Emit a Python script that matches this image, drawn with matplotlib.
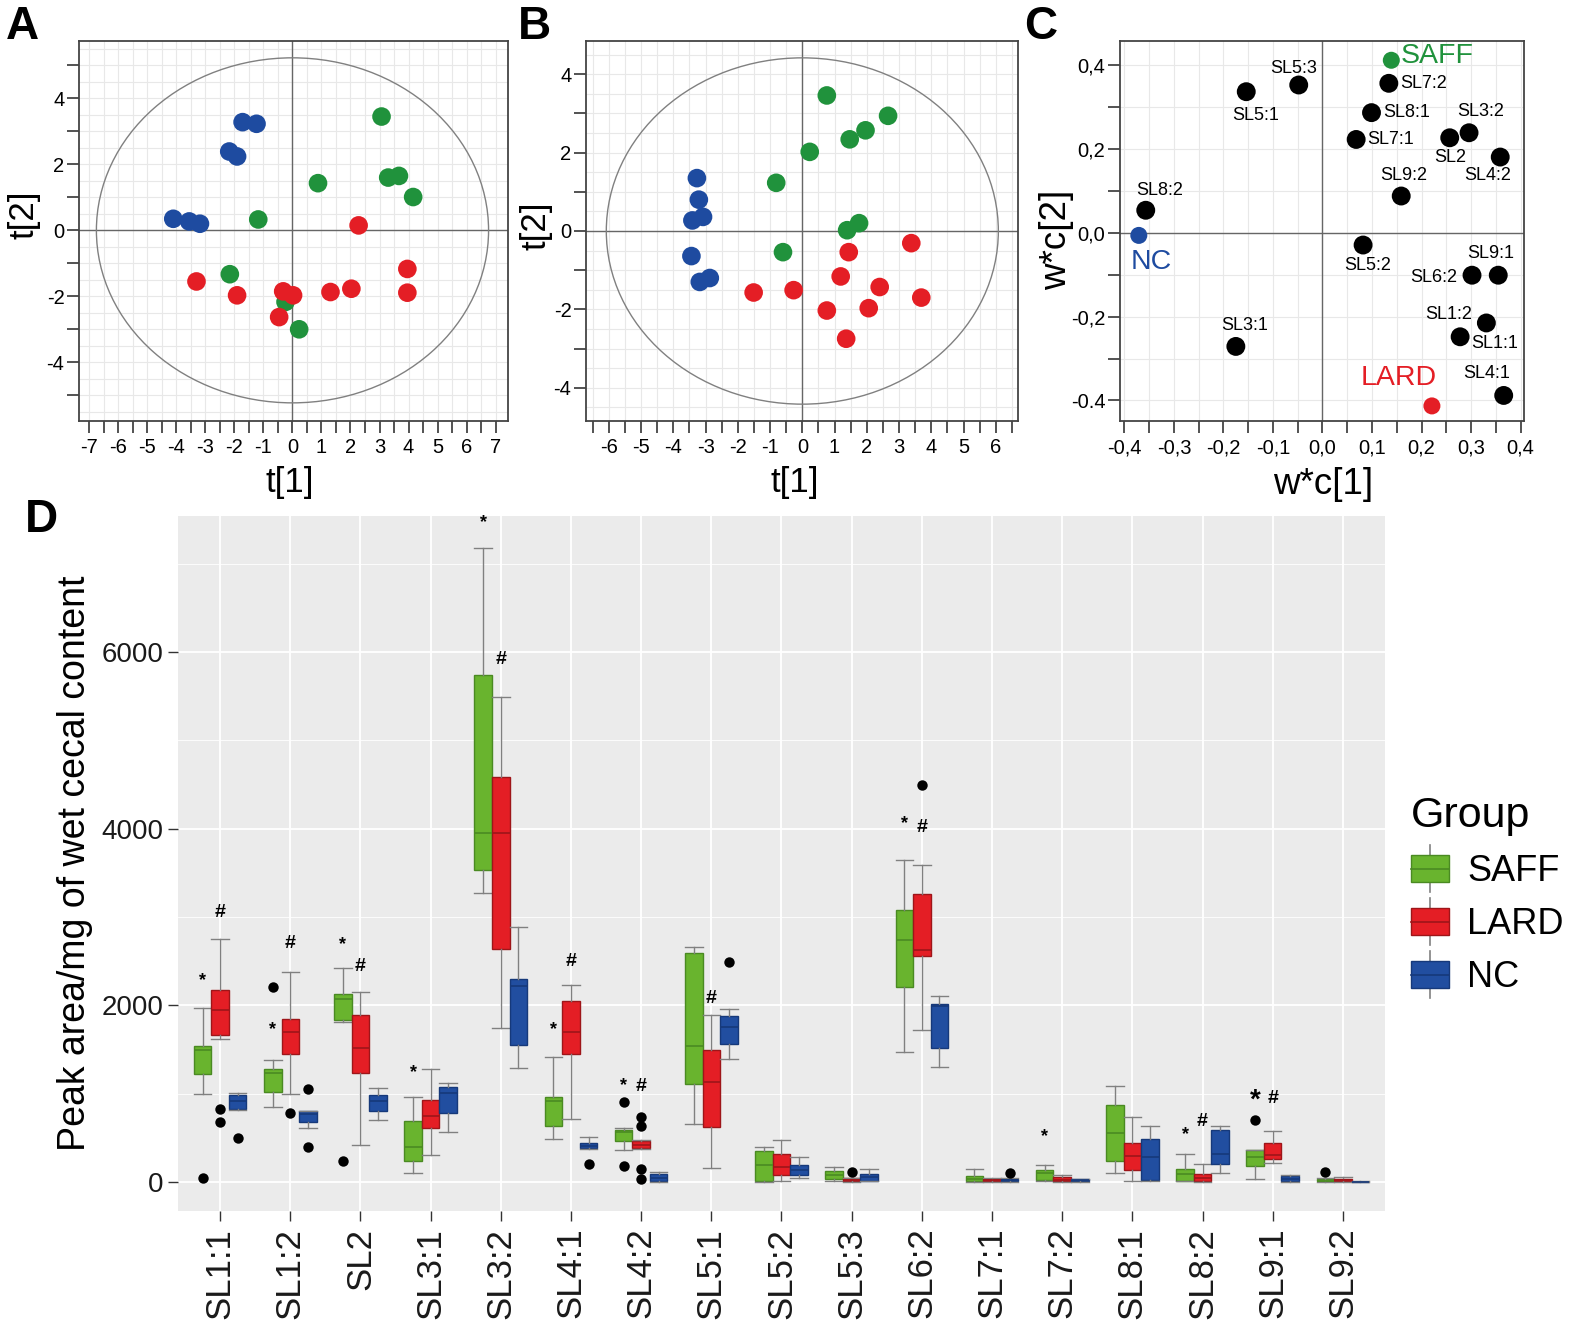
import numpy as np
import matplotlib
matplotlib.use("Agg")
import matplotlib.pyplot as plt
from matplotlib.patches import Ellipse, Rectangle, Patch
from matplotlib.lines import Line2D
from matplotlib.legend_handler import HandlerBase

plt.rcParams['font.family'] = ['Liberation Sans', 'DejaVu Sans']
plt.rcParams['axes.unicode_minus'] = False

# ---------------- data ----------------
groups = ["SAFF", "LARD", "NC"]

# A: scores t[1]/t[2]
A_saff_x = [3.07, 0.88, 3.30, 3.67, 4.16, -1.18, -2.16, -0.24, 0.23]
A_saff_y = [3.45, 1.43, 1.60, 1.65, 1.01, 0.33, -1.33, -2.17, -3.00]
A_lard_x = [2.28, 3.96, 3.96, -3.31, -1.91, -0.32, 0.02, -0.46, 1.31, 2.03]
A_lard_y = [0.15, -1.17, -1.89, -1.55, -1.97, -1.85, -1.97, -2.63, -1.87, -1.77]
A_nc_x = [-1.72, -1.24, -2.18, -1.91, -4.11, -3.56, -3.19]
A_nc_y = [3.28, 3.23, 2.39, 2.24, 0.35, 0.27, 0.20]

# B: scores t[1]/t[2]
B_saff_x = [0.76, 2.66, 1.96, 1.47, 0.23, -0.81, 1.76, 1.39, -0.60]
B_saff_y = [3.46, 2.94, 2.57, 2.34, 2.02, 1.23, 0.20, 0.02, -0.54]
B_lard_x = [3.38, 1.44, 1.19, 2.40, 3.69, -1.51, -0.27, 0.76, 2.06, 1.36]
B_lard_y = [-0.31, -0.54, -1.16, -1.43, -1.70, -1.57, -1.51, -2.03, -1.97, -2.75]
B_nc_x = [-3.27, -3.21, -3.08, -3.41, -3.44, -2.87, -3.18]
B_nc_y = [1.35, 0.80, 0.36, 0.27, -0.64, -1.20, -1.30]

# C: loadings w*c[1]/w*c[2]
C_names = ["SL7:2", "SL5:3", "SL5:1", "SL8:1", "SL7:1", "SL3:2", "SL2", "SL4:2",
           "SL9:2", "SL8:2", "SL5:2", "SL6:2", "SL9:1", "SL1:2", "SL1:1", "SL3:1", "SL4:1"]
C_x = [0.134, -0.048, -0.154, 0.099, 0.068, 0.296, 0.257, 0.359,
       0.159, -0.357, 0.082, 0.302, 0.355, 0.331, 0.278, -0.175, 0.366]
C_y = [0.357, 0.353, 0.337, 0.287, 0.223, 0.239, 0.227, 0.181,
       0.088, 0.054, -0.029, -0.101, -0.101, -0.215, -0.248, -0.271, -0.388]
C_grp_x = [0.139, 0.221, -0.371]
C_grp_y = [0.412, -0.413, -0.006]

# D: box statistics per group
categories = ["SL1:1", "SL1:2", "SL2", "SL3:1", "SL3:2", "SL4:1", "SL4:2", "SL5:1", "SL5:2",
              "SL5:3", "SL6:2", "SL7:1", "SL7:2", "SL8:1", "SL8:2", "SL9:1", "SL9:2"]
saff_lo = [990, 850, 1810, 95, 3270, 490, 365, 660, 0, 5, 1470, 0, 5, 100, 5, 36, 0]
saff_q1 = [1225, 1015, 1830, 235, 3530, 635, 465, 1110, 5, 35, 2205, 5, 25, 235, 5, 175, 5]
saff_med = [1490, 1230, 2075, 390, 3950, 915, 560, 1540, 190, 80, 2735, 30, 100, 555, 90, 280, 15]
saff_q3 = [1540, 1275, 2125, 685, 5745, 965, 585, 2595, 355, 125, 3080, 62, 135, 875, 145, 360, 28]
saff_hi = [1965, 1375, 2420, 965, 7180, 1410, 615, 2660, 400, 165, 3640, 145, 190, 1090, 315, 360, 40]
saff_out = [[45], [2205], [235], [], [], [], [905, 175], [], [], [], [], [], [], [], [], [695], [115]]

lard_lo = [1620, 990, 415, 305, 1740, 715, 375, 160, 5, 0, 1720, 0, 0, 10, 0, 215, 0]
lard_q1 = [1660, 1445, 1230, 605, 2640, 1445, 380, 625, 80, 5, 2560, 5, 5, 130, 5, 255, 5]
lard_med = [1945, 1695, 1520, 750, 3950, 1695, 420, 1135, 165, 20, 2620, 20, 20, 295, 45, 300, 20]
lard_q3 = [2170, 1840, 1890, 930, 4590, 2045, 465, 1490, 315, 45, 3265, 35, 55, 435, 90, 445, 35]
lard_hi = [2750, 2375, 2155, 1275, 5485, 2225, 470, 1890, 475, 45, 3590, 45, 80, 735, 200, 580, 50]
lard_out = [[825, 680], [785], [], [], [], [], [735, 630, 140, 30], [], [], [115], [4490], [], [], [], [], [], []]

nc_lo = [815, 605, 700, 565, 1290, 370, 0, 1390, 45, 5, 1295, 0, 0, 10, 100, 0, 0]
nc_q1 = [825, 680, 800, 780, 1555, 380, 5, 1565, 80, 5, 1520, 5, 5, 20, 205, 5, 0]
nc_med = [920, 765, 920, 1010, 2215, 410, 45, 1750, 130, 50, 1990, 20, 20, 285, 320, 30, 0]
nc_q3 = [985, 800, 980, 1075, 2295, 435, 90, 1880, 190, 90, 2010, 35, 30, 490, 590, 70, 0]
nc_hi = [1010, 800, 1060, 1125, 2890, 505, 115, 1955, 280, 150, 2105, 45, 35, 635, 635, 75, 5]
nc_out = [[500], [1050, 400], [], [], [], [200], [], [2490], [], [], [], [105], [], [], [], [], []]

# significance marks: category index, group index, symbol, height
sig_cat = [0, 0, 1, 1, 2, 2, 3, 4, 4, 5, 5, 6, 6, 7, 10, 10, 12, 14, 14, 15, 15]
sig_grp = [0, 1, 0, 1, 0, 1, 0, 0, 1, 0, 1, 0, 1, 1, 0, 1, 0, 0, 1, 0, 1]
sig_sym = ["*", "#", "*", "#", "*", "#", "*", "*", "#", "*", "#", "*", "#", "#", "*", "#", "*", "*", "#", "*", "#"]
sig_val = [2280, 3055, 1720, 2700, 2690, 2440, 1240, 7465, 5910, 1720, 2500, 1085, 1085, 2075,
           4055, 4010, 515, 540, 680, 920, 945]

# ---------------- style ----------------
dot_col = {"SAFF": "#20923C", "LARD": "#E41E25", "NC": "#1E4BA0"}
box_fill = ["#69B42E", "#E41E25", "#214EA0"]
box_edge = ["#4A8A22", "#9E1519", "#16397A"]
frame_col = "#444444"
grid_col = "#E8E8E8"

W, H = 1575, 1330
fig = plt.figure(figsize=(W / 100, H / 100), dpi=100)


def px_axes(x0, y0, x1, y1):
    return fig.add_axes([x0 / W, 1 - y1 / H, (x1 - x0) / W, (y1 - y0) / H])


def simca_axes(ax, xlim, ylim, xgrid, ygrid):
    ax.set_xlim(*xlim)
    ax.set_ylim(*ylim)
    for g in xgrid:
        ax.axvline(g, color=grid_col, lw=0.8, zorder=0)
    for g in ygrid:
        ax.axhline(g, color=grid_col, lw=0.8, zorder=0)
    ax.axhline(0, color="#666666", lw=1.0, zorder=1)
    ax.axvline(0, color="#666666", lw=1.0, zorder=1)
    for s in ax.spines.values():
        s.set_color(frame_col)
        s.set_linewidth(1.3)
    ax.tick_params(which="both", direction="out", length=8.5, width=1.3, color=frame_col,
                   labelsize=14.5, labelcolor="black")
    ax.tick_params(axis="y", pad=2)
    ax.tick_params(axis="x", pad=4)


def score_panel(ax, pts, ell, xlim, ylim, xmaj, xmin, ymaj, ymin):
    simca_axes(ax, xlim, ylim, np.arange(-7.5, 7.6, 0.5), np.arange(-6, 6.1, 0.5))
    ax.add_patch(Ellipse((0, 0), 2 * ell[0], 2 * ell[1], fill=False, ec="#808080", lw=1.0, zorder=2))
    for name in groups:
        ax.scatter(pts[name][0], pts[name][1], s=180, color=dot_col[name], edgecolors="none", zorder=3)
    ax.set_xticks(xmaj, [str(v) for v in xmaj])
    ax.set_xticks(xmin, minor=True)
    ax.set_yticks(ymaj, [str(v) for v in ymaj])
    ax.set_yticks(ymin, minor=True)


# panel A
axA = px_axes(79, 41, 508, 421)
score_panel(axA, {"SAFF": (A_saff_x, A_saff_y), "LARD": (A_lard_x, A_lard_y), "NC": (A_nc_x, A_nc_y)},
            (6.76, 5.23), (-7.36, 7.43), (-5.78, 5.74),
            list(range(-7, 8)), list(np.arange(-6.5, 7, 1.0)), [-4, -2, 0, 2, 4], [-5, -3, -1, 1, 3, 5])

# panel B
axB = px_axes(586, 41, 1018, 421)
score_panel(axB, {"SAFF": (B_saff_x, B_saff_y), "LARD": (B_lard_x, B_lard_y), "NC": (B_nc_x, B_nc_y)},
            (6.08, 4.42), (-6.71, 6.69), (-4.85, 4.85),
            list(range(-6, 7)), list(np.arange(-6.5, 7, 1.0)), [-4, -2, 0, 2, 4], [-3, -1, 1, 3])

# panel C
axC = px_axes(1120, 41, 1524, 421)
simca_axes(axC, (-0.409, 0.407), (-0.449, 0.458), np.arange(-0.4, 0.41, 0.05), np.arange(-0.4, 0.41, 0.1))
axC.scatter(C_x, C_y, s=185, color="black", edgecolors="none", zorder=3)
axC.scatter(C_grp_x, C_grp_y, s=150, color=[dot_col[g] for g in groups], edgecolors="none", zorder=3)
cx_ticks = np.round(np.arange(-0.4, 0.41, 0.1), 2)
axC.set_xticks(cx_ticks, ["-0,4", "-0,3", "-0,2", "-0,1", "0,0", "0,1", "0,2", "0,3", "0,4"])
axC.set_xticks(np.round(np.arange(-0.35, 0.4, 0.1), 2), minor=True)
axC.set_yticks([-0.4, -0.2, 0.0, 0.2, 0.4], ["-0.4", "-0,2", "0,0", "0,2", "0,4"])
axC.set_yticks([-0.3, -0.1, 0.1, 0.3], minor=True)

C_label_off = {
    "SL7:2": (8, 0, "left"), "SL5:3": (-4, 12, "center"), "SL5:1": (7, -17, "center"),
    "SL8:1": (8.5, 0, "left"), "SL7:1": (8, 0, "left"), "SL3:2": (8.5, 15, "center"),
    "SL2": (0, -14, "center"), "SL4:2": (-9, -13.5, "center"), "SL9:2": (2, 14.5, "center"),
    "SL8:2": (10, 14.5, "center"), "SL5:2": (3, -14.5, "center"), "SL6:2": (-10.5, -2, "right"),
    "SL9:1": (-5.5, 15.5, "center"), "SL1:2": (-27, 6, "center"), "SL1:1": (24.5, -5, "center"),
    "SL3:1": (6, 15, "center"), "SL4:1": (-12, 15.5, "center"),
}
for name, x, y in zip(C_names, C_x, C_y):
    dx, dy, ha = C_label_off[name]
    axC.annotate(name, (x, y), xytext=(dx, dy), textcoords="offset points", ha=ha, va="center",
                 fontsize=13, zorder=4)
grp_off = [(7, 3, "left"), (-24, 20, "center"), (9, -19, "center")]
for g, x, y, (dx, dy, ha) in zip(groups, C_grp_x, C_grp_y, grp_off):
    axC.annotate(g, (x, y), xytext=(dx, dy), textcoords="offset points", ha=ha, va="center",
                 fontsize=20.5, color=dot_col[g], zorder=4)

# axis titles / panel letters
fig.text(290 / W, 1 - 482 / H, "t[1]", fontsize=25, ha="center", va="center")
fig.text(24 / W, 1 - 215 / H, "t[2]", fontsize=25, ha="center", va="center", rotation=90)
fig.text(795 / W, 1 - 482 / H, "t[1]", fontsize=25, ha="center", va="center")
fig.text(536 / W, 1 - 226 / H, "t[2]", fontsize=25, ha="center", va="center", rotation=90)
fig.text(1323 / W, 1 - 484 / H, "w*c[1]", fontsize=26.5, ha="center", va="center")
fig.text(1057 / W, 1 - 240 / H, "w*c[2]", fontsize=26.5, ha="center", va="center", rotation=90)
for letter, lx, ly in [("A", 22, 39), ("B", 534, 39), ("C", 1041, 39), ("D", 41, 532)]:
    fig.text(lx / W, 1 - ly / H, letter, fontsize=33, fontweight="bold", ha="center", va="baseline")

# ---------------- panel D ----------------
axD = px_axes(178, 516, 1385, 1211)
axD.set_facecolor("#EBEBEB")
for s in axD.spines.values():
    s.set_visible(False)
axD.set_xlim(0.4, 17.6)
axD.set_ylim(-330, 7540)
pos = np.arange(1, len(categories) + 1)
axD.set_xticks(pos, categories, rotation=90, fontsize=25)
axD.set_yticks([0, 2000, 4000, 6000], ["0", "2000", "4000", "6000"], fontsize=20)
axD.set_yticks([1000, 3000, 5000, 7000], minor=True)
axD.grid(which="major", color="white", lw=1.3)
axD.grid(which="minor", axis="y", color="white", lw=0.6)
axD.set_axisbelow(True)
axD.tick_params(which="major", length=7, width=1, color="#333333", labelcolor="#1a1a1a")
axD.tick_params(axis="x", pad=5)
axD.tick_params(which="minor", length=0)

box_data = [
    (saff_lo, saff_q1, saff_med, saff_q3, saff_hi, saff_out),
    (lard_lo, lard_q1, lard_med, lard_q3, lard_hi, lard_out),
    (nc_lo, nc_q1, nc_med, nc_q3, nc_hi, nc_out),
]
offsets = [-0.25, 0.0, 0.25]
for gi, (lo, q1, med, q3, hi, out) in enumerate(box_data):
    stats = [dict(whislo=a, q1=b, med=c, q3=d, whishi=e, fliers=f)
             for a, b, c, d, e, f in zip(lo, q1, med, q3, hi, out)]
    axD.bxp(stats, positions=pos + offsets[gi], widths=0.25, capwidths=0.25, patch_artist=True,
            showfliers=True, manage_ticks=False,
            boxprops=dict(facecolor=box_fill[gi], edgecolor=box_edge[gi], lw=1),
            medianprops=dict(color=box_edge[gi], lw=1.2),
            whiskerprops=dict(color="#808080", lw=1),
            capprops=dict(color="#808080", lw=1),
            flierprops=dict(marker="o", markerfacecolor="black", markeredgecolor="none", markersize=7.5))

for c, g, sym, v in zip(sig_cat, sig_grp, sig_sym, sig_val):
    big = (c == 15)
    if sym == "*":
        axD.text(pos[c] + offsets[g], v, sym, ha="center", va="center",
                 fontsize=20 if big else 13, fontweight="bold")
    else:
        axD.text(pos[c] + offsets[g], v, sym, ha="center", va="center", fontsize=14, fontweight="bold")

fig.text(75 / W, 1 - 863 / H, "Peak area/mg of wet cecal content", fontsize=27, rotation=90,
         ha="center", va="center")


class BoxKey(HandlerBase):
    def create_artists(self, legend, orig_handle, xdescent, ydescent, width, height, fontsize, trans):
        x0, y0 = -xdescent, -ydescent
        cx = x0 + width / 2
        whisk = Line2D([cx, cx], [y0 - 0.35 * height, y0 + 1.35 * height], color="#808080", lw=1.2,
                       transform=trans)
        box = Rectangle((x0, y0), width, height, facecolor=orig_handle.get_facecolor(),
                        edgecolor=orig_handle.get_edgecolor(), lw=1, transform=trans)
        mid = Line2D([x0, x0 + width], [y0 + height / 2] * 2, color=orig_handle.get_edgecolor(), lw=1.2,
                     transform=trans)
        return [whisk, box, mid]


handles = [Patch(facecolor=box_fill[i], edgecolor=box_edge[i]) for i in range(3)]
fig.legend(handles, groups, handler_map={Patch: BoxKey()}, loc="upper left",
           bbox_to_anchor=(1411 / W, 1 - 796 / H), frameon=False, fontsize=26,
           title="Group", title_fontsize=31, handlelength=1.05, handleheight=0.8, handletextpad=0.5,
           labelspacing=0.5, borderpad=0, borderaxespad=0, alignment="left")

fig.savefig("out.png", dpi=100)
